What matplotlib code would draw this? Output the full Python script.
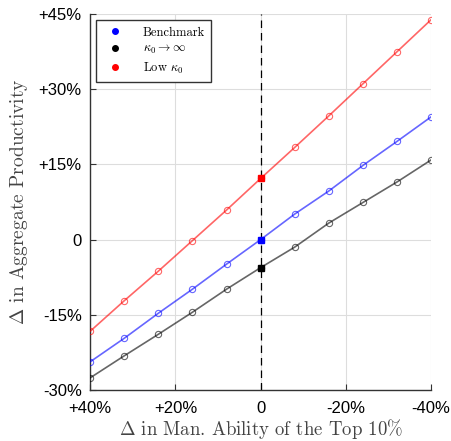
import matplotlib.pyplot as plt

plt.rcParams['mathtext.fontset'] = 'cm'

# change in managerial ability of the top 10% (percent)
ability_change = [40, 32, 24, 16, 8, 0, -8, -16, -24, -32, -40]

# change in aggregate productivity (percent)
benchmark = [-24.4, -19.7, -14.7, -9.9, -4.9, 0.0, 5.1, 9.7, 14.8, 19.6, 24.5]
kappa_inf = [-27.6, -23.2, -18.9, -14.5, -9.9, -5.6, -1.5, 3.3, 7.4, 11.5, 15.9]
low_kappa = [-18.3, -12.2, -6.3, -0.2, 5.9, 12.2, 18.4, 24.7, 31.1, 37.5, 43.9]

series = [
    ("Benchmark", benchmark, "blue"),
    (r"$\kappa_0 \to \infty$", kappa_inf, "black"),
    (r"Low $\kappa_0$", low_kappa, "red"),
]

x_ticks = [40, 20, 0, -20, -40]
x_labels = ["+40%", "+20%", "0", "-20%", "-40%"]
y_ticks = [-30, -15, 0, 15, 30, 45]
y_labels = ["-30%", "-15%", "0", "+15%", "+30%", "+45%"]

fig = plt.figure(figsize=(4.51, 4.41), dpi=100)
ax = fig.add_axes([0.200, 0.116, 0.756, 0.852])

ax.axvline(0, color="black", linestyle=(0, (6, 4)), linewidth=0.9, zorder=2)

for label, vals, color in series:
    ax.plot(ability_change, vals, color=color, alpha=0.6, linewidth=1.2,
            marker="o", markersize=4.5, markerfacecolor="none",
            markeredgewidth=0.8, zorder=3)
    i0 = ability_change.index(0)
    ax.plot(ability_change[i0], vals[i0], "s", color=color, markersize=4.5, zorder=4)
    ax.plot([], [], "o", color=color, markersize=4, linestyle="none", label=label)

ax.set_xlim(40, -40)
ax.set_ylim(-30, 45)
ax.set_xticks(x_ticks)
ax.set_xticklabels(x_labels, fontfamily="Liberation Sans", fontsize=12)
ax.set_yticks(y_ticks)
ax.set_yticklabels(y_labels, fontfamily="Liberation Sans", fontsize=12)
ax.tick_params(direction="in", length=4, width=0.8, color="#333333")
ax.tick_params(axis="x", pad=8)
ax.tick_params(axis="y", pad=6)
ax.grid(True, color="#dddddd", linewidth=0.8)
ax.set_axisbelow(True)

for side in ["top", "right"]:
    ax.spines[side].set_visible(False)
for side in ["left", "bottom"]:
    ax.spines[side].set_color("#333333")
    ax.spines[side].set_linewidth(1.0)

ax.set_xlabel(r"$\Delta$ in Man. Ability of the Top 10%", fontfamily="cmr10",
              fontsize=13.5, labelpad=1, color="#444444")
ax.set_ylabel(r"$\Delta$ in Aggregate Productivity", fontfamily="cmr10",
              fontsize=14, labelpad=6, color="#444444")

leg = ax.legend(loc="upper left", prop={"family": "cmr10", "size": 9},
                fancybox=False, edgecolor="#333333", framealpha=1,
                borderaxespad=0.5, borderpad=0.5, handletextpad=1.2,
                labelspacing=0.35)
leg.get_frame().set_linewidth(1.0)

fig.savefig("out.png", dpi=100)
